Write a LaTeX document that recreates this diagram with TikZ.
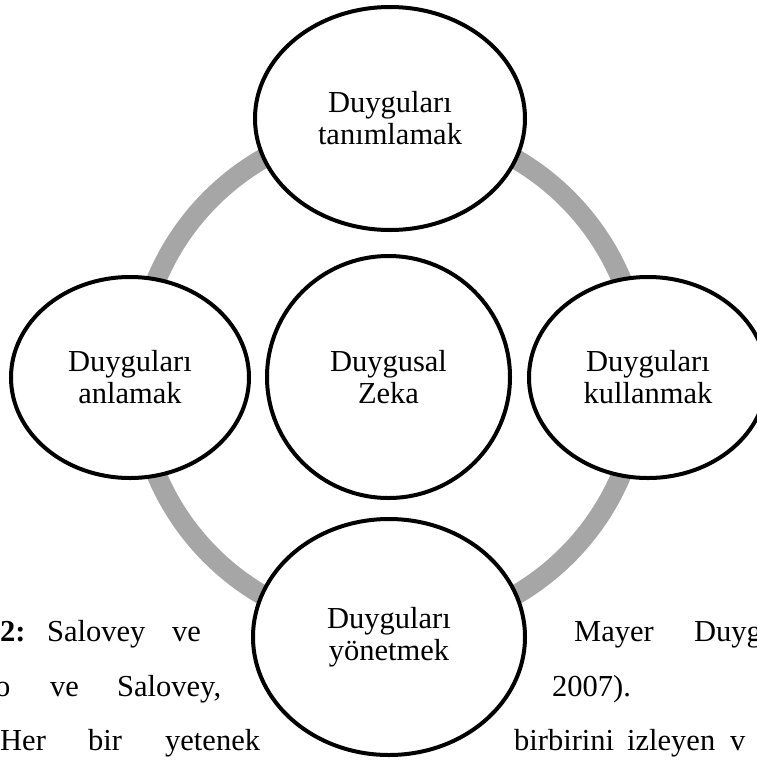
\documentclass[tikz,border=0pt]{standalone}
\usepackage{fontspec}
\setmainfont{Liberation Serif}
\usetikzlibrary{shapes.geometric}

\definecolor{ringgray}{RGB}{166,166,166}
\newcommand{\bubblefont}{\fontsize{30.5}{32}\selectfont}

\tikzset{
    bubble/.style={ellipse, draw=black, line width=4pt, fill=white,
                   align=center, inner sep=0pt, font=\bubblefont},
    ring/.style={draw=ringgray, line width=20pt},
    word/.style={inner sep=0pt, anchor=base west, font=\bubblefont}
}

\begin{document}
\begin{tikzpicture}[x=1pt, y=-1pt]
    \useasboundingbox (0,0) rectangle (757,761);
    \clip (0,0) rectangle (757,761);

    % page text behind the figure
    \foreach \x/\y/\w [count=\i] in {0/641/{\textbf{2:}}, 47/641/Salovey, 172/641/ve,
            574/641/Mayer, 694/641/Duyg,
            -5/696/o, 50/696/ve, 117/696/{Salovey,}, 552/696/{2007).},
            0/750/Her, 88/750/bir, 165/750/yetenek,
            514/750/birbirini, 627/750/izleyen, 730/750/v}
        \node[word] (word\i) at (\x,\y) {\w};

    \coordinate (mid) at (389,377);
    \draw[ring] (mid) circle [radius=252pt];

    \node[bubble, minimum width=243pt, minimum height=242pt] (zeka) at (388.5,377) {Duygusal\\Zeka};
    \node[bubble, minimum width=270pt, minimum height=223pt] (tanima) at (390,118.5) {Duyguları\\tanımlamak};
    \node[bubble, minimum width=238pt, minimum height=201pt] (anlama) at (130,377.5) {Duyguları\\anlamak};
    \node[bubble, minimum width=238pt, minimum height=201pt] (kullanma) at (648,377.5) {Duyguları\\kullanmak};
    \node[bubble, minimum width=272pt, minimum height=236pt] (yonetme) at (389,637) {Duyguları\\yönetmek};

\end{tikzpicture}
\end{document}
